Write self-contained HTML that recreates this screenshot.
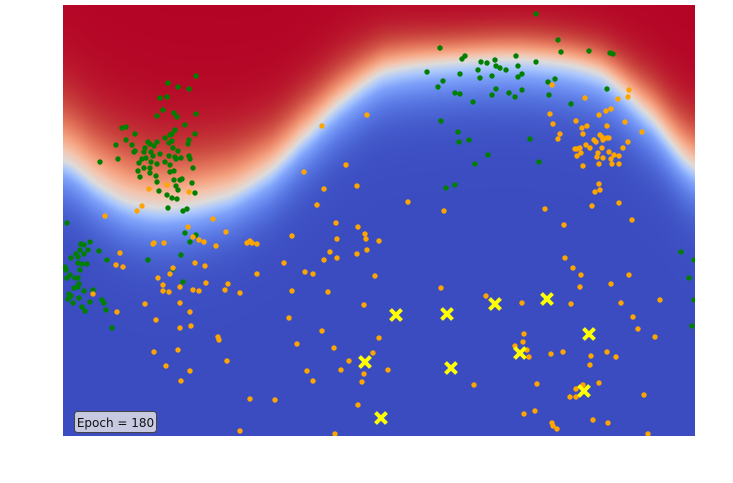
<!DOCTYPE html>
<html><head><meta charset="utf-8">
<style>
html,body{margin:0;padding:0;background:#fff;width:733px;height:483px;overflow:hidden}
#wrap{position:relative;width:733px;height:483px}
#heat{position:absolute;left:63px;top:5px}
#ov{position:absolute;left:0;top:0}
</style></head>
<body>
<div id="wrap">
<canvas id="heat" width="632" height="431"></canvas>
<svg id="ov" width="733" height="483">
<defs><clipPath id="clip"><rect x="63" y="5" width="632" height="431"/></clipPath></defs>
<g id="pts" clip-path="url(#clip)"></g>
<g>
<rect x="74.5" y="411.5" width="82" height="21" rx="3" fill="#c6c9df" stroke="#444" stroke-width="1"/>
<text x="115.5" y="427" text-anchor="middle" font-family="DejaVu Sans, Liberation Sans, sans-serif" font-size="12" fill="#111">Epoch = 180</text>
</g>
</svg>
</div>
<script>
// axis domain: x 0..632, y 0..431 (y up)
const boundaryX=[0,37,67,107,167,207,237,277,320,387,467,537,587,632];
const boundaryY=[276,250,234,229,242,266,296,334,364,374,376,362,319,269];
const rampUp=[58,58,58,55,50,45,42,38,32,28,28,30,38,45];
const greenX=[133,105,115,126,97,104,100,94,111,114,133,122,59,63,72,112,107,109,132,63,69,53,102,85,94,106,109,126,125,82,91,87,110,115,72,71,81,88,97,106,90,126,112,118,127,79,83,37,55,76,88,94,102,107,113,87,81,130,75,87,107,111,77,93,111,117,119,94,129,113,115,96,132,104,109,114,105,124,120,4,
473,495,377,498,526,547,550,402,399,418,424,432,453,473,433,437,443,455,364,415,397,429,417,459,455,380,375,485,492,433,459,392,397,429,446,452,486,544,410,508,378,395,396,406,467,425,412,476,383,392,
27,18,21,36,25,17,13,21,15,8,44,15,19,24,2,3,17,7,12,4,15,16,11,15,21,30,6,8,5,16,39,41,27,10,19,22,43,49,85,122,133,127,118,110,120,
618,631,626,631,629];
const greenY=[360,353,349,347,338,339,326,320,323,319,322,311,308,309,302,306,301,302,302,296,291,291,298,294,294,293,295,296,292,288,290,292,288,285,285,284,284,284,282,280,280,280,279,278,277,277,278,274,277,273,274,272,274,271,277,268,268,268,265,263,264,265,259,260,256,256,257,254,253,250,246,245,243,241,238,237,228,227,225,213,
422,396,388,384,385,383,382,380,377,374,373,376,380,374,370,368,366,370,364,366,362,360,358,362,359,355,349,354,357,347,346,343,342,341,343,339,341,347,334,332,315,304,294,296,297,281,272,274,248,251,
194,192,191,185,186,186,182,182,179,178,176,173,172,172,169,166,166,161,158,158,158,152,148,149,145,146,142,140,137,138,136,133,134,133,129,125,126,108,176,203,201,194,181,167,154,
184,176,158,136,110];
const orangeX=[304,259,241,283,261,294,254,86,104,126,79,74,42,150,273,
489,566,565,522,555,548,543,536,487,490,513,562,519,524,544,579,497,520,537,539,495,531,533,540,544,546,565,523,527,512,514,517,539,560,518,535,546,514,534,540,551,556,548,520,536,549,556,536,537,532,529,556,569,345,381,482,501,
125,163,130,136,141,90,91,101,153,184,187,189,194,229,295,302,303,316,274,267,261,274,294,304,57,53,60,30,132,142,110,107,95,100,100,106,117,130,136,143,165,162,177,194,221,242,250,229,265,312,301,82,117,54,127,93,117,128,226,259,316,155,156,234,91,115,271,310,286,301,299,278,164,103,127,118,244,250,187,212,295,177,272,
502,510,518,566,517,548,378,423,459,508,558,597,570,575,592,461,460,452,464,466,488,500,528,544,553,527,325,411,474,536,513,520,507,513,581,472,461,530,545,489,490,494,585];
const orangeY=[321,310,264,271,247,250,231,247,251,244,230,225,220,217,213,
351,346,339,338,337,327,325,321,322,312,315,314,308,310,310,304,302,302,301,299,297,296,294,296,298,298,294,291,288,287,287,288,288,288,283,283,284,280,279,278,281,280,277,270,272,272,272,252,246,244,230,233,216,234,225,227,211,
209,204,199,196,194,192,193,193,190,193,195,193,192,200,209,202,197,195,197,184,176,178,182,186,183,171,169,142,173,170,168,162,158,151,145,144,149,146,145,153,152,146,143,162,173,164,162,145,144,160,131,132,133,124,124,116,108,110,118,105,98,99,96,92,84,86,88,83,75,62,54,66,75,70,65,55,65,55,37,36,31,5,2,
178,168,161,161,149,152,148,140,133,132,133,136,119,107,99,102,94,90,86,79,82,84,80,84,79,71,66,51,52,53,47,51,39,39,41,25,22,16,13,13,10,7,2];
const crossX=[333,384,432,484,526,457,388,302,318,521];
const crossY=[121,122,132,137,102,83,68,74,18,45];

const PX=63,PY=5,PW=632,PH=431;
const xScale=v=>PX+v/632*PW;
const yScale=v=>PY+PH-v/431*PH;

function catmull(xs,ys,x){
  let i=0;while(i<xs.length-2&&x>xs[i+1])i++;
  const x0=xs[i],x1=xs[i+1];const t=Math.max(0,Math.min(1,(x-x0)/(x1-x0)));
  const p0=ys[Math.max(0,i-1)],p1=ys[i],p2=ys[i+1],p3=ys[Math.min(ys.length-1,i+2)];
  return 0.5*((2*p1)+(-p0+p2)*t+(2*p0-5*p1+4*p2-p3)*t*t+(-p0+3*p1-3*p2+p3)*t*t*t);
}
const cmap=[[59,76,192],[80,108,218],[103,136,238],[128,163,250],[170,199,253],[221,220,220],[244,196,173],[244,160,126],[226,115,90],[199,63,59],[180,4,38]];
function col(v){v=Math.max(0,Math.min(1,v))*10;const i=Math.min(9,Math.floor(v)),f=v-i;const a=cmap[i],b=cmap[i+1];return [a[0]+(b[0]-a[0])*f,a[1]+(b[1]-a[1])*f,a[2]+(b[2]-a[2])*f];}
const cv=document.getElementById('heat');const ctx=cv.getContext('2d');
const img=ctx.createImageData(PW,PH);
for(let px=0;px<PW;px++){
  const by=yScale(catmull(boundaryX,boundaryY,px))-PY;
  const wu=catmull(boundaryX,rampUp,px);
  for(let py=0;py<PH;py++){
    const d=by-py;const w=d>0?wu:40;
    const v=0.5+0.5*Math.tanh(d/w);
    const c=col(v);const k=(py*PW+px)*4;
    img.data[k]=c[0];img.data[k+1]=c[1];img.data[k+2]=c[2];img.data[k+3]=255;
  }
}
ctx.putImageData(img,0,0);

const NS='http://www.w3.org/2000/svg';const g=document.getElementById('pts');
for(let i=0;i<greenX.length;i++){
  const c=document.createElementNS(NS,'circle');
  c.setAttribute('cx',xScale(greenX[i]));c.setAttribute('cy',yScale(greenY[i]));c.setAttribute('r',2.7);c.setAttribute('fill','#008000');
  
  
  g.appendChild(c);
}
for(let i=0;i<orangeX.length;i++){
  const c=document.createElementNS(NS,'circle');
  c.setAttribute('cx',xScale(orangeX[i]));c.setAttribute('cy',yScale(orangeY[i]));c.setAttribute('r',2.7);c.setAttribute('fill','#ffa500');
  
  
  g.appendChild(c);
}
for(let i=0;i<crossX.length;i++){
  const x=xScale(crossX[i]),y=yScale(crossY[i]),s=5.5;
  const p=document.createElementNS(NS,'path');
  p.setAttribute('d',`M${x-s},${y-s}L${x+s},${y+s}M${x-s},${y+s}L${x+s},${y-s}`);
  p.setAttribute('stroke','#ffff00');p.setAttribute('stroke-width','4');p.setAttribute('fill','none');
  
  
  g.appendChild(p);
}
</script>
</body></html>
